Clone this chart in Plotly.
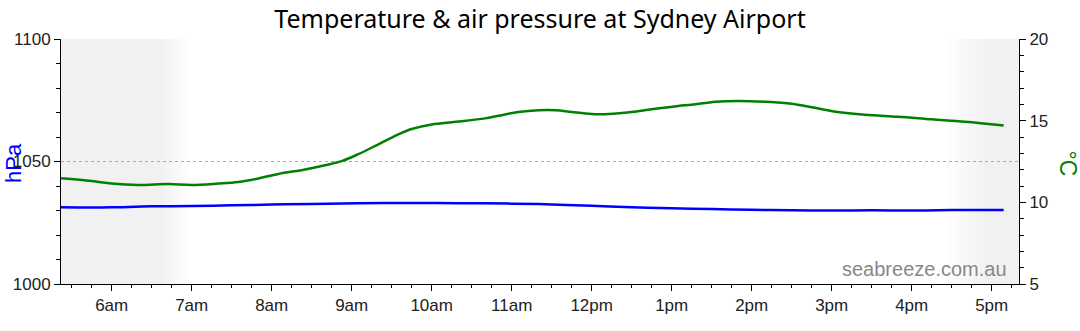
import plotly.graph_objects as go

DAY = "2024-07-01"

# Temperature (°C, right axis)
temp_times = ["05:22", "05:45", "06:00", "06:20", "06:43", "07:00", "07:20", "07:35", "07:50",
              "08:05", "08:25", "08:40", "08:53", "09:05", "09:20", "09:35", "09:45", "10:00",
              "10:18", "10:40", "10:50", "11:05", "11:20", "11:33", "11:45", "12:00", "12:13",
              "12:30", "12:45", "13:05", "13:15", "13:33", "13:50", "14:10", "14:30", "14:45",
              "15:03", "15:25", "15:50", "16:15", "16:40", "17:09"]
temp_values = [11.48, 11.31, 11.15, 11.06, 11.12, 11.06, 11.15, 11.25, 11.46,
               11.74, 12.01, 12.27, 12.54, 12.95, 13.55, 14.16, 14.49, 14.77,
               14.93, 15.14, 15.30, 15.53, 15.64, 15.64, 15.53, 15.41, 15.41,
               15.53, 15.70, 15.90, 15.98, 16.16, 16.21, 16.16, 16.04, 15.82,
               15.55, 15.36, 15.24, 15.08, 14.93, 14.71]

# Air pressure (hPa, left axis)
pres_times = ["05:22", "05:45", "06:00", "06:30", "07:00", "07:30", "08:00", "08:30", "09:05",
              "09:45", "10:20", "11:00", "11:30", "12:00", "12:30", "13:00", "13:30", "14:00",
              "14:30", "15:00", "15:30", "16:00", "16:30", "17:09"]
pres_values = [1031.3, 1031.2, 1031.3, 1031.7, 1031.8, 1032.1, 1032.4, 1032.7, 1033.0,
               1033.1, 1033.0, 1032.8, 1032.5, 1031.9, 1031.3, 1030.9, 1030.6, 1030.3,
               1030.1, 1030.0, 1030.1, 1030.0, 1030.2, 1030.2]

# X axis ticks
hour_ticks = ["06:00", "07:00", "08:00", "09:00", "10:00", "11:00", "12:00", "13:00",
              "14:00", "15:00", "16:00", "17:00"]
hour_labels = ["6am", "7am", "8am", "9am", "10am", "11am", "12pm", "1pm", "2pm", "3pm", "4pm", "5pm"]

x_start, x_end = "05:22", "17:20:30"
sunrise_fade = ("06:39", "06:58")
sunset_fade = ("16:24", "16:54")


def ts(t):
    return f"{DAY} {t}" if len(t) > 5 else f"{DAY} {t}:00"


def minutes(t):
    h, m = t.split(":")[:2]
    return int(h) * 60 + int(m)


def hhmm(mins):
    return f"{mins // 60:02d}:{mins % 60:02d}"


SHADE = 241
shapes = []


def rect(a, b, level):
    c = f"rgb({level},{level},{level})"
    shapes.append(dict(type="rect", xref="x", yref="paper", x0=a, x1=b, y0=0, y1=1,
                       fillcolor=c, line=dict(width=0), layer="below"))


rect(ts(x_start), ts(sunrise_fade[0]), SHADE)
m0, m1 = minutes(sunrise_fade[0]), minutes(sunrise_fade[1])
for m in range(m0, m1):
    f = (m - m0 + 0.5) / (m1 - m0)
    rect(ts(hhmm(m)), ts(hhmm(m + 1)), round(SHADE + (255 - SHADE) * f))
m0, m1 = minutes(sunset_fade[0]), minutes(sunset_fade[1])
for m in range(m0, m1):
    f = (m - m0 + 0.5) / (m1 - m0)
    rect(ts(hhmm(m)), ts(hhmm(m + 1)), round(255 - (255 - SHADE) * f))
rect(ts(sunset_fade[1]), ts(x_end), SHADE)

fig = go.Figure()
fig.add_trace(go.Scatter(x=[ts(t) for t in pres_times], y=pres_values, mode="lines",
                         line=dict(color="#0000ff", width=2.5, shape="spline"),
                         name="Pressure", yaxis="y"))
fig.add_trace(go.Scatter(x=[ts(t) for t in temp_times], y=temp_values, mode="lines",
                         line=dict(color="#008000", width=2.5, shape="spline"),
                         name="Temperature", yaxis="y2"))

tick_font = dict(family="Liberation Sans, Arial, sans-serif", size=17, color="#222")

fig.update_layout(
    width=1080, height=331,
    margin=dict(l=61, r=61, t=39, b=47),
    paper_bgcolor="white", plot_bgcolor="white",
    showlegend=False,
    shapes=shapes,
    title=dict(text="Temperature &amp; air pressure at Sydney Airport",
               x=0.5, xanchor="center", y=1 - 19 / 331, yanchor="middle",
               font=dict(family="Noto Sans, sans-serif", size=25, color="#000")),
    xaxis=dict(type="date", range=[ts(x_start), ts(x_end)],
               tickvals=[ts(t) for t in hour_ticks], ticktext=hour_labels,
               ticks="outside", ticklen=6, tickcolor="#000", tickwidth=1,
               minor=dict(dtick=15 * 60 * 1000, ticks="outside", ticklen=3, tickcolor="#000",
                          showgrid=False),
               showline=True, linecolor="#000", linewidth=1, showgrid=False, zeroline=False,
               tickfont=tick_font, fixedrange=True),
    yaxis=dict(range=[1000, 1100], tickvals=[1000, 1050, 1100],
               ticks="outside", ticklen=6, tickcolor="#000",
               minor=dict(dtick=10, ticks="outside", ticklen=4, tickcolor="#000", showgrid=False),
               showline=True, linecolor="#000", linewidth=1,
               showgrid=True, gridcolor="#aaaaaa", griddash="dot", gridwidth=1,
               zeroline=False, tickfont=tick_font),
    yaxis2=dict(range=[5, 20], tickvals=[5, 10, 15, 20], overlaying="y", side="right",
                ticks="outside", ticklen=6, tickcolor="#000",
                minor=dict(dtick=1, ticks="outside", ticklen=4, tickcolor="#000", showgrid=False),
                showline=True, linecolor="#000", linewidth=1, showgrid=False, zeroline=False,
                tickfont=tick_font),
    annotations=[
        dict(text="hPa", xref="paper", yref="paper", x=(14 - 61.3) / 958, y=0.493,
             xanchor="center", yanchor="middle", textangle=-90, showarrow=False,
             font=dict(family="Liberation Sans, Arial, sans-serif", size=22, color="#0000ff")),
        dict(text="°C", xref="paper", yref="paper", x=(1068 - 61.3) / 958, y=0.493,
             xanchor="center", yanchor="middle", textangle=90, showarrow=False,
             font=dict(family="Liberation Sans, Arial, sans-serif", size=23, color="#008000")),
        dict(text="seabreeze.com.au", xref="paper", yref="paper", x=(1009 - 61.3) / 958,
             y=(283.3 - 268) / 244, xanchor="right", yanchor="middle", showarrow=False,
             font=dict(family="Liberation Sans, Arial, sans-serif", size=20, color="#888888")),
    ],
)

fig.write_html("out.html")
